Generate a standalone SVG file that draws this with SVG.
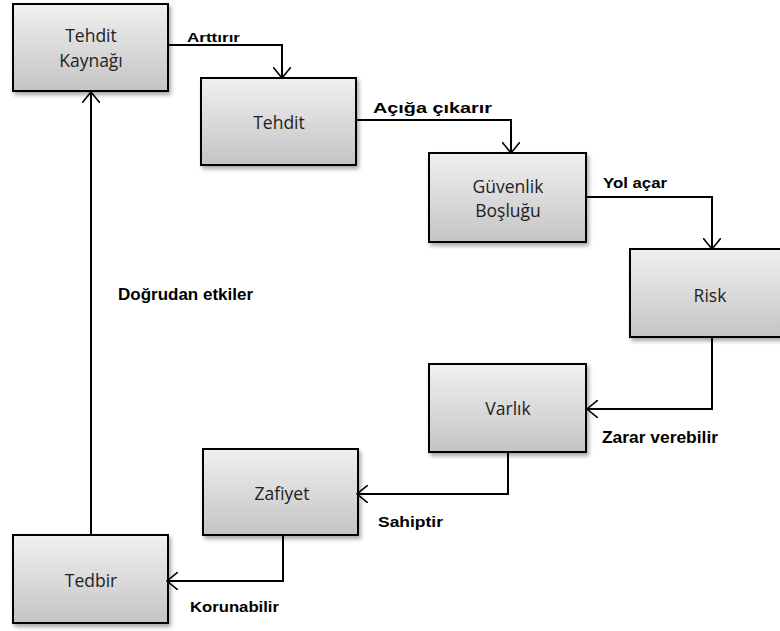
<svg xmlns="http://www.w3.org/2000/svg" width="780" height="631" viewBox="0 0 780 631">
<defs>
<linearGradient id="g" x1="0" y1="0" x2="0" y2="1">
<stop offset="0" stop-color="#f0f0f0"/>
<stop offset="1" stop-color="#c4c4c4"/>
</linearGradient>
<filter id="sh" x="-10%" y="-10%" width="130%" height="130%">
<feGaussianBlur in="SourceAlpha" stdDeviation="2"/>
<feOffset dx="2" dy="3" result="b"/>
<feComponentTransfer><feFuncA type="linear" slope="0.35"/></feComponentTransfer>
<feMerge><feMergeNode/><feMergeNode in="SourceGraphic"/></feMerge>
</filter>
<marker id="ah" viewBox="0 0 12 18" refX="11" refY="9" markerWidth="12" markerHeight="18" markerUnits="userSpaceOnUse" orient="auto">
<path d="M0,0 L11,9 L0,18" fill="none" stroke="#000" stroke-width="1.6"/>
</marker>
</defs>
<style>
.box{fill:url(#g);stroke:#000;stroke-width:2;filter:url(#sh)}
.t{font-family:"Open Sans","Liberation Sans",sans-serif;font-size:17.5px;fill:#222;text-anchor:middle}
.l{font-family:"Liberation Sans",Arial,sans-serif;font-weight:bold;fill:#000}
.c{fill:none;stroke:#000;stroke-width:2;marker-end:url(#ah)}
</style>
<rect width="780" height="631" fill="#fff"/>
<g id="n1"><rect class="box" x="13" y="4" width="155" height="87"/><text class="t" x="91" y="42">Tehdit</text><text class="t" x="91" y="67">Kaynağı</text></g>
<g id="n2"><rect class="box" x="201" y="78" width="155" height="87"/><text class="t" x="279" y="129">Tehdit</text></g>
<g id="n3"><rect class="box" x="429" y="153" width="157" height="89"/><text class="t" x="508" y="193">Güvenlik</text><text class="t" x="508" y="217">Boşluğu</text></g>
<g id="n4"><rect class="box" x="630" y="249" width="160" height="88"/><text class="t" x="710" y="302">Risk</text></g>
<g id="n5"><rect class="box" x="429" y="364" width="157" height="88"/><text class="t" x="508" y="415">Varlık</text></g>
<g id="n6"><rect class="box" x="203" y="449" width="155" height="86"/><text class="t" x="282" y="500">Zafiyet</text></g>
<g id="n7"><rect class="box" x="13" y="535" width="155" height="88"/><text class="t" x="91" y="587">Tedbir</text></g>
<g id="edges">
<path class="c" d="M168,45 H282 V78"/>
<path class="c" d="M356,120 H511 V153"/>
<path class="c" d="M586,197 H712 V249"/>
<path class="c" d="M712,337 V409 H587"/>
<path class="c" d="M508,452 V494 H357"/>
<path class="c" d="M283,535 V581 H167"/>
<path class="c" d="M91,535 V92"/>
</g>
<g id="labels">
<text class="l" x="187" y="42" font-size="13" textLength="53" lengthAdjust="spacingAndGlyphs">Arttırır</text>
<text class="l" x="373" y="113" font-size="14" textLength="119" lengthAdjust="spacingAndGlyphs">Açığa çıkarır</text>
<text class="l" x="603" y="188" font-size="15" textLength="64" lengthAdjust="spacingAndGlyphs">Yol açar</text>
<text class="l" x="602" y="443" font-size="16" textLength="116" lengthAdjust="spacingAndGlyphs">Zarar verebilir</text>
<text class="l" x="378" y="527" font-size="15" textLength="65" lengthAdjust="spacingAndGlyphs">Sahiptir</text>
<text class="l" x="190" y="612" font-size="15" textLength="89" lengthAdjust="spacingAndGlyphs">Korunabilir</text>
<text class="l" x="118" y="300" font-size="16" textLength="135" lengthAdjust="spacingAndGlyphs">Doğrudan etkiler</text>
</g>
</svg>
